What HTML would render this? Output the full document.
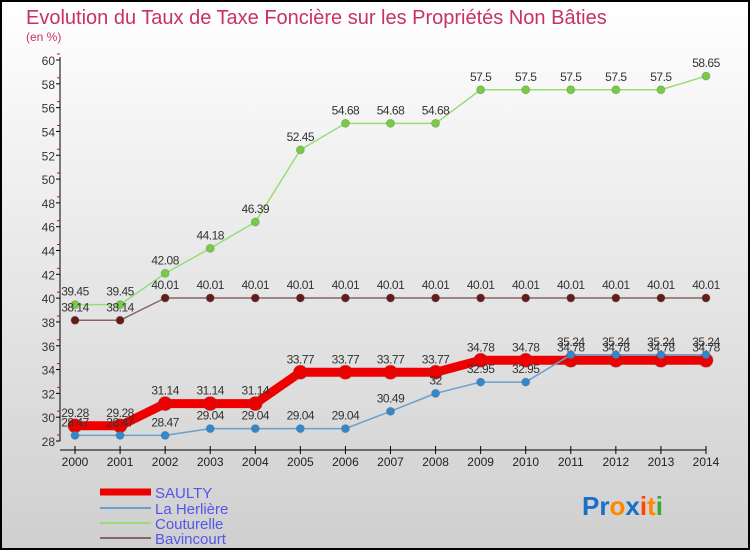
<!DOCTYPE html>
<html><head><meta charset="utf-8"><style>
body{margin:0;width:750px;height:550px;overflow:hidden}
svg{display:block}
text{font-family:"Liberation Sans",sans-serif}
</style></head><body>
<svg id="c" width="750" height="550" viewBox="0 0 750 550">
<defs><linearGradient id="bg" x1="0" y1="0" x2="0" y2="1"><stop offset="0" stop-color="#ffffff"/><stop offset="1" stop-color="#cfcfcf"/></linearGradient></defs>
<rect x="1" y="1" width="748" height="548" fill="url(#bg)" stroke="#000" stroke-width="2"/>
<text x="26" y="24" font-size="20" fill="#c8306a">Evolution du Taux de Taxe Foncière sur les Propriétés Non Bâties</text>
<text x="26" y="41" font-size="12" fill="#c8306a">(en %)</text>
<g id="axes"></g><g id="series"></g>
<g>
<line x1="100" y1="492" x2="151" y2="492" stroke="#ee0000" stroke-width="7"/>
<text x="155" y="498" font-size="15" fill="#5555ee">SAULTY</text>
<line x1="100" y1="508" x2="151" y2="508" stroke="#6aa0cc" stroke-width="2"/>
<text x="155" y="514" font-size="15" fill="#5555ee">La Herlière</text>
<line x1="100" y1="523" x2="151" y2="523" stroke="#99dd77" stroke-width="2"/>
<text x="155" y="529" font-size="15" fill="#5555ee">Couturelle</text>
<line x1="100" y1="538" x2="151" y2="538" stroke="#886666" stroke-width="2"/>
<text x="155" y="544" font-size="15" fill="#5555ee">Bavincourt</text>
</g>
<text x="582" y="515" font-size="26" font-weight="bold"><tspan fill="#1a6fc9">Pr</tspan><tspan fill="#ff8800">o</tspan><tspan fill="#1a6fc9">x</tspan><tspan fill="#ff4400">i</tspan><tspan fill="#ff8800">t</tspan><tspan fill="#33aa33">i</tspan></text>
</svg>
<script>
const years=[2000,2001,2002,2003,2004,2005,2006,2007,2008,2009,2010,2011,2012,2013,2014];
const yTicks=[28,30,32,34,36,38,40,42,44,46,48,50,52,54,56,58,60];
const saulty=[29.28,29.28,31.14,31.14,31.14,33.77,33.77,33.77,33.77,34.78,34.78,34.78,34.78,34.78,34.78];
const herliere=[28.47,28.47,28.47,29.04,29.04,29.04,29.04,30.49,32,32.95,32.95,35.24,35.24,35.24,35.24];
const couturelle=[39.45,39.45,42.08,44.18,46.39,52.45,54.68,54.68,54.68,57.5,57.5,57.5,57.5,57.5,58.65];
const bavincourt=[38.14,38.14,40.01,40.01,40.01,40.01,40.01,40.01,40.01,40.01,40.01,40.01,40.01,40.01,40.01];
const NS='http://www.w3.org/2000/svg';
const X=i=>75+i*(706-75)/(years.length-1);
const Y=v=>441-(v-28)*(441-60)/32;
function mk(t,a,p){const e=document.createElementNS(NS,t);for(const k in a)e.setAttribute(k,a[k]);p.appendChild(e);return e;}
const ax=document.getElementById('axes');
let l=mk('line',{x1:60,y1:57,x2:60,y2:441,stroke:'#000'},ax);


l=mk('line',{x1:60,y1:450,x2:706,y2:450,stroke:'#000'},ax);


yTicks.forEach(v=>{const y=Y(v);
 mk('line',{x1:56,y1:y,x2:60,y2:y,stroke:'#000'},ax);
 mk('line',{x1:57,y1:y-6,x2:60,y2:y-6,stroke:'#e00'},ax);
 const t=mk('text',{x:55,y:y+5,'font-size':12,fill:'#333','text-anchor':'end'},ax);t.textContent=v;
 
 });
years.forEach((yr,i)=>{const x=X(i);
 mk('line',{x1:x,y1:446,x2:x,y2:454,stroke:'#000'},ax);
 const t=mk('text',{x:x,y:466,'font-size':12,fill:'#222','text-anchor':'middle'},ax);t.textContent=yr;
 
 });
const sg=document.getElementById('series');
function series(vals,name,col,w,r,dot){
 const g=mk('g',{},sg);
 
 
 mk('polyline',{points:vals.map((v,i)=>X(i)+','+Y(v)).join(' '),fill:'none',stroke:col,'stroke-width':w,'stroke-linejoin':'round'},g);
 vals.forEach((v,i)=>{const c=mk('circle',{cx:X(i),cy:Y(v),r:r,fill:dot,stroke:'#555','stroke-opacity':0.3},g);
  
  
  const t=mk('text',{x:X(i),y:Y(v)-9,'font-size':12,fill:'#333','text-anchor':'middle','letter-spacing':'-0.5'},g);t.textContent=v;
  
  });
}
series(couturelle,'couturelle','#99dd77',1.5,4,'#77cc44');
series(bavincourt,'bavincourt','#886666',1.5,4,'#661a1a');
series(saulty,'saulty','#ee0000',9,7,'#ee0000');
series(herliere,'la-herliere','#6aa0cc',1.5,4,'#3388cc');
</script>
</body></html>
